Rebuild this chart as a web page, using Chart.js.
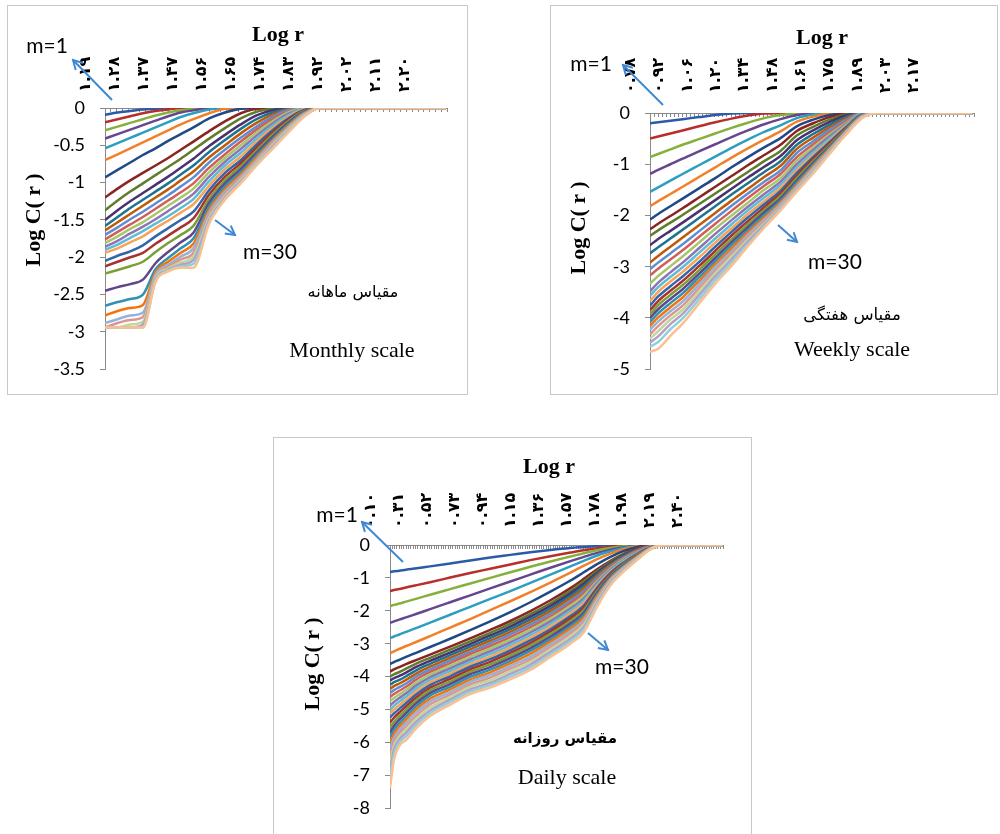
<!DOCTYPE html>
<html>
<head>
<meta charset="utf-8">
<script src="https://cdn.jsdelivr.net/npm/chart.js@4.4.1/dist/chart.umd.min.js"></script>
<style>
  body { margin: 0; background: #fff; }
  #page { position: relative; width: 1000px; height: 834px; overflow: hidden; background: #fff; }
  .panel { position: absolute; border: 1.5px solid #c8c8c8; box-sizing: border-box; }
  canvas { position: absolute; }
  .txt { position: absolute; white-space: nowrap; transform: translate(-50%, -50%); color: #000; line-height: 1; }
  .serifB { font-family: "Liberation Serif", serif; font-weight: bold; font-size: 22px; }
  .ytitle { transform: translate(-50%, -50%) rotate(-90deg); }
  .m { font-family: Lato, "Open Sans", sans-serif; font-size: 21px; }
  .fa { font-family: "DejaVu Sans", sans-serif; font-size: 16px; direction: rtl; }
  .en { font-family: "Liberation Serif", serif; font-size: 22px; }
  svg { position: absolute; left: 0; top: 0; }
</style>
</head>
<body>
<div id="page">
  <div class="panel" style="left:7px;top:5px;width:461px;height:390px;"></div>
  <div class="panel" style="left:550px;top:5px;width:448px;height:390px;"></div>
  <div class="panel" style="left:273px;top:437px;width:479px;height:420px;"></div>

  <canvas id="monthly" width="461" height="390" style="left:7px;top:5px;"></canvas>
  <canvas id="weekly" width="448" height="390" style="left:550px;top:5px;"></canvas>
  <canvas id="daily" width="479" height="397" style="left:273px;top:437px;"></canvas>

  <!-- monthly texts -->
  <div class="txt serifB" style="left:278px;top:34px;">Log r</div>
  <div class="txt serifB ytitle" style="left:33px;top:220px;">Log C( r )</div>
  <div class="txt m" style="left:47px;top:44px;">m=1</div>
  <div class="txt m" style="left:270px;top:250px;">m=30</div>
  <div class="txt fa" style="left:353px;top:292px;">مقیاس ماهانه</div>
  <div class="txt en" style="left:352px;top:350px;">Monthly scale</div>

  <!-- weekly texts -->
  <div class="txt serifB" style="left:822px;top:37px;">Log r</div>
  <div class="txt serifB ytitle" style="left:578px;top:228px;">Log C( r )</div>
  <div class="txt m" style="left:591px;top:62px;">m=1</div>
  <div class="txt m" style="left:835px;top:260px;">m=30</div>
  <div class="txt fa" style="left:852px;top:315px;font-size:16.5px;">مقیاس هفتگی</div>
  <div class="txt en" style="left:852px;top:349px;">Weekly scale</div>

  <!-- daily texts -->
  <div class="txt serifB" style="left:549px;top:466px;">Log r</div>
  <div class="txt serifB ytitle" style="left:312px;top:664px;">Log C( r )</div>
  <div class="txt m" style="left:337px;top:513px;">m=1</div>
  <div class="txt m" style="left:622px;top:665px;">m=30</div>
  <div class="txt fa" style="left:565px;top:738px;font-weight:bold;font-size:15px;">مقیاس روزانه</div>
  <div class="txt en" style="left:567px;top:777px;">Daily scale</div>

  <svg id="arrows" width="1000" height="834"></svg>
</div>

<script>
// ---- tick labels (Persian digits), one every few categories ----
const monthlyTicks = ['۱.۱۹','۱.۲۸','۱.۳۷','۱.۴۷','۱.۵۶','۱.۶۵','۱.۷۴','۱.۸۳','۱.۹۲','۲.۰۲','۲.۱۱','۲.۲۰'];
const weeklyTicks = ['۰.۷۸','۰.۹۲','۱.۰۶','۱.۲۰','۱.۳۴','۱.۴۸','۱.۶۱','۱.۷۵','۱.۸۹','۲.۰۳','۲.۱۷'];
const dailyTicks = ['۰.۱۰','۰.۳۱','۰.۵۲','۰.۷۳','۰.۹۴','۱.۱۵','۱.۳۶','۱.۵۷','۱.۷۸','۱.۹۸','۲.۱۹','۲.۴۰'];

// ---- Log r values where each curve was read ----
const monthlyLogR = [1.19,1.23,1.27,1.31,1.35,1.39,1.43,1.47,1.52,1.57,1.62,1.67,1.72,1.77,1.82,1.87,2.27];
const weeklyLogR = [0.78,0.82,0.88,0.94,1.02,1.10,1.18,1.26,1.34,1.42,1.50,1.58,1.66,1.74,1.82,1.90,2.36];
const dailyLogR = [0.10,0.13,0.17,0.22,0.30,0.40,0.55,0.70,0.85,1.00,1.15,1.30,1.45,1.55,1.65,1.75,1.85,1.95,2.05,2.15,2.59];

// ---- Log C(r), one row per embedding dimension m = 1..30 ----
const monthlyLogC = [
  [-0.09,-0.06,-0.04,-0.02,-0.01,0,0,0,0,0,0,0,0,0,0,0,0],
  [-0.19,-0.15,-0.11,-0.07,-0.04,-0.02,0,0,0,0,0,0,0,0,0,0,0],
  [-0.30,-0.25,-0.20,-0.15,-0.10,-0.06,-0.03,-0.01,0,0,0,0,0,0,0,0,0],
  [-0.41,-0.35,-0.29,-0.23,-0.17,-0.11,-0.06,-0.03,0,0,0,0,0,0,0,0,0],
  [-0.54,-0.47,-0.40,-0.33,-0.26,-0.19,-0.12,-0.07,-0.02,0,0,0,0,0,0,0,0],
  [-0.70,-0.62,-0.54,-0.46,-0.38,-0.30,-0.22,-0.15,-0.07,-0.01,0,0,0,0,0,0,0],
  [-0.93,-0.83,-0.73,-0.63,-0.54,-0.44,-0.35,-0.26,-0.14,-0.06,-0.01,0,0,0,0,0,0],
  [-1.20,-1.08,-0.97,-0.87,-0.77,-0.67,-0.56,-0.45,-0.31,-0.18,-0.07,-0.01,0,0,0,0,0],
  [-1.37,-1.24,-1.12,-1.01,-0.90,-0.79,-0.68,-0.56,-0.41,-0.27,-0.14,-0.05,-0.01,0,0,0,0],
  [-1.50,-1.37,-1.25,-1.14,-1.03,-0.92,-0.80,-0.68,-0.51,-0.36,-0.22,-0.10,-0.03,0,0,0,0],
  [-1.58,-1.46,-1.34,-1.23,-1.12,-1.01,-0.89,-0.77,-0.59,-0.43,-0.28,-0.15,-0.06,-0.01,0,0,0],
  [-1.64,-1.53,-1.42,-1.31,-1.20,-1.09,-0.97,-0.85,-0.66,-0.50,-0.34,-0.20,-0.09,-0.02,0,0,0],
  [-1.70,-1.60,-1.49,-1.39,-1.28,-1.17,-1.05,-0.93,-0.73,-0.56,-0.40,-0.25,-0.12,-0.03,0,0,0],
  [-1.76,-1.66,-1.56,-1.46,-1.35,-1.24,-1.13,-1.01,-0.80,-0.62,-0.45,-0.29,-0.15,-0.05,0,0,0],
  [-1.81,-1.72,-1.62,-1.53,-1.42,-1.31,-1.20,-1.08,-0.86,-0.67,-0.50,-0.33,-0.18,-0.06,0,0,0],
  [-1.86,-1.78,-1.68,-1.59,-1.49,-1.38,-1.27,-1.15,-0.92,-0.72,-0.55,-0.37,-0.21,-0.08,-0.01,0,0],
  [-1.90,-1.83,-1.74,-1.65,-1.55,-1.45,-1.34,-1.22,-0.98,-0.77,-0.60,-0.41,-0.24,-0.10,-0.01,0,0],
  [-1.94,-1.88,-1.80,-1.72,-1.61,-1.51,-1.40,-1.29,-1.04,-0.82,-0.65,-0.45,-0.27,-0.12,-0.02,0,0],
  [-2.05,-1.98,-1.92,-1.84,-1.72,-1.61,-1.50,-1.39,-1.10,-0.87,-0.70,-0.49,-0.30,-0.14,-0.03,0,0],
  [-2.12,-2.06,-2.00,-1.94,-1.82,-1.71,-1.60,-1.48,-1.16,-0.92,-0.74,-0.53,-0.33,-0.16,-0.03,0,0],
  [-2.22,-2.17,-2.12,-2.06,-1.93,-1.81,-1.70,-1.58,-1.22,-0.97,-0.78,-0.57,-0.36,-0.18,-0.04,0,0],
  [-2.45,-2.40,-2.36,-2.30,-2.08,-1.93,-1.80,-1.67,-1.27,-1.01,-0.82,-0.60,-0.39,-0.20,-0.05,0,0],
  [-2.65,-2.60,-2.56,-2.50,-2.16,-2.01,-1.88,-1.75,-1.32,-1.05,-0.86,-0.63,-0.42,-0.22,-0.06,0,0],
  [-2.78,-2.72,-2.68,-2.64,-2.20,-2.06,-1.94,-1.82,-1.36,-1.09,-0.89,-0.66,-0.44,-0.24,-0.07,0,0],
  [-2.88,-2.83,-2.78,-2.74,-2.23,-2.10,-1.99,-1.88,-1.40,-1.12,-0.92,-0.69,-0.46,-0.26,-0.08,0,0],
  [-2.94,-2.88,-2.84,-2.80,-2.26,-2.13,-2.03,-1.94,-1.44,-1.15,-0.94,-0.71,-0.48,-0.28,-0.09,0,0],
  [-2.94,-2.94,-2.90,-2.86,-2.28,-2.15,-2.07,-1.99,-1.47,-1.18,-0.96,-0.73,-0.50,-0.29,-0.10,0,0],
  [-2.94,-2.94,-2.94,-2.90,-2.30,-2.17,-2.10,-2.04,-1.50,-1.20,-0.98,-0.75,-0.52,-0.31,-0.11,0,0],
  [-2.94,-2.94,-2.94,-2.94,-2.32,-2.18,-2.12,-2.09,-1.53,-1.22,-1.00,-0.76,-0.54,-0.32,-0.11,0,0],
  [-2.94,-2.94,-2.94,-2.94,-2.33,-2.19,-2.14,-2.14,-1.55,-1.23,-1.01,-0.77,-0.55,-0.33,-0.12,0,0]
];

const weeklyLogC = [
  [-0.20,-0.18,-0.15,-0.12,-0.08,-0.04,-0.01,0,0,0,0,0,0,0,0,0,0],
  [-0.50,-0.46,-0.40,-0.34,-0.26,-0.18,-0.11,-0.05,-0.01,0,0,0,0,0,0,0,0],
  [-0.86,-0.80,-0.71,-0.62,-0.51,-0.40,-0.29,-0.19,-0.10,-0.04,-0.01,0,0,0,0,0,0],
  [-1.19,-1.11,-1.00,-0.89,-0.75,-0.61,-0.47,-0.34,-0.22,-0.12,-0.04,0,0,0,0,0,0],
  [-1.54,-1.45,-1.32,-1.19,-1.02,-0.85,-0.68,-0.52,-0.37,-0.24,-0.10,-0.03,0,0,0,0,0],
  [-1.82,-1.72,-1.58,-1.44,-1.25,-1.06,-0.87,-0.69,-0.52,-0.36,-0.17,-0.07,-0.01,0,0,0,0],
  [-2.08,-1.97,-1.82,-1.67,-1.47,-1.27,-1.06,-0.86,-0.67,-0.49,-0.26,-0.13,-0.04,0,0,0,0],
  [-2.27,-2.16,-2.01,-1.86,-1.65,-1.44,-1.23,-1.02,-0.82,-0.62,-0.35,-0.20,-0.08,-0.01,0,0,0],
  [-2.40,-2.29,-2.14,-1.99,-1.78,-1.57,-1.36,-1.15,-0.94,-0.74,-0.44,-0.27,-0.13,-0.03,0,0,0],
  [-2.58,-2.46,-2.30,-2.14,-1.92,-1.70,-1.48,-1.26,-1.05,-0.84,-0.53,-0.34,-0.18,-0.05,0,0,0],
  [-2.74,-2.62,-2.45,-2.28,-2.05,-1.82,-1.59,-1.37,-1.15,-0.94,-0.62,-0.41,-0.23,-0.08,0,0,0],
  [-2.92,-2.79,-2.61,-2.43,-2.19,-1.95,-1.71,-1.48,-1.25,-1.03,-0.70,-0.48,-0.28,-0.11,0,0,0],
  [-3.05,-2.92,-2.74,-2.56,-2.31,-2.06,-1.81,-1.57,-1.34,-1.12,-0.78,-0.55,-0.33,-0.14,0,0,0],
  [-3.17,-3.04,-2.86,-2.68,-2.42,-2.16,-1.91,-1.66,-1.42,-1.19,-0.86,-0.61,-0.38,-0.17,-0.01,0,0],
  [-3.33,-3.18,-2.99,-2.80,-2.53,-2.26,-2.00,-1.75,-1.50,-1.27,-0.93,-0.67,-0.42,-0.20,-0.01,0,0],
  [-3.48,-3.31,-3.11,-2.92,-2.64,-2.36,-2.09,-1.83,-1.58,-1.34,-1.00,-0.72,-0.46,-0.22,-0.02,0,0],
  [-3.57,-3.40,-3.20,-3.01,-2.73,-2.45,-2.17,-1.90,-1.65,-1.40,-1.06,-0.77,-0.50,-0.24,-0.02,0,0],
  [-3.67,-3.49,-3.29,-3.10,-2.82,-2.53,-2.25,-1.97,-1.72,-1.46,-1.12,-0.82,-0.54,-0.26,-0.03,0,0],
  [-3.76,-3.58,-3.38,-3.19,-2.91,-2.61,-2.32,-2.04,-1.78,-1.52,-1.17,-0.86,-0.57,-0.28,-0.03,0,0],
  [-3.85,-3.67,-3.47,-3.28,-2.99,-2.69,-2.39,-2.11,-1.84,-1.57,-1.22,-0.90,-0.60,-0.30,-0.04,0,0],
  [-3.93,-3.75,-3.55,-3.36,-3.07,-2.76,-2.46,-2.17,-1.89,-1.62,-1.27,-0.94,-0.63,-0.32,-0.04,0,0],
  [-4.00,-3.83,-3.63,-3.44,-3.14,-2.83,-2.52,-2.23,-1.94,-1.67,-1.32,-0.98,-0.66,-0.34,-0.05,0,0],
  [-4.07,-3.91,-3.71,-3.52,-3.21,-2.89,-2.58,-2.28,-1.99,-1.71,-1.36,-1.01,-0.68,-0.35,-0.05,0,0],
  [-4.15,-3.99,-3.79,-3.60,-3.28,-2.95,-2.64,-2.33,-2.04,-1.75,-1.40,-1.04,-0.70,-0.36,-0.06,0,0],
  [-4.23,-4.07,-3.87,-3.68,-3.35,-3.01,-2.70,-2.38,-2.08,-1.78,-1.43,-1.07,-0.72,-0.37,-0.06,0,0],
  [-4.32,-4.16,-3.95,-3.76,-3.42,-3.07,-2.75,-2.43,-2.12,-1.81,-1.46,-1.10,-0.74,-0.38,-0.07,0,0],
  [-4.40,-4.26,-4.03,-3.84,-3.49,-3.13,-2.80,-2.47,-2.16,-1.84,-1.48,-1.12,-0.76,-0.39,-0.08,0,0],
  [-4.48,-4.36,-4.12,-3.92,-3.56,-3.19,-2.86,-2.51,-2.19,-1.86,-1.50,-1.14,-0.77,-0.40,-0.08,0,0],
  [-4.56,-4.47,-4.22,-4.01,-3.64,-3.26,-2.92,-2.56,-2.22,-1.88,-1.52,-1.16,-0.79,-0.42,-0.09,0,0],
  [-4.66,-4.60,-4.35,-4.11,-3.72,-3.33,-2.98,-2.60,-2.24,-1.90,-1.53,-1.18,-0.80,-0.43,-0.10,0,0]
];

const dailyLogC = [
  [-0.82,-0.80,-0.78,-0.75,-0.71,-0.65,-0.56,-0.47,-0.38,-0.30,-0.22,-0.15,-0.09,-0.06,-0.03,-0.01,0,0,0,0,0],
  [-1.40,-1.37,-1.34,-1.29,-1.22,-1.13,-0.99,-0.85,-0.72,-0.59,-0.46,-0.34,-0.23,-0.16,-0.10,-0.05,-0.02,0,0,0,0],
  [-1.86,-1.82,-1.78,-1.72,-1.63,-1.51,-1.34,-1.17,-1.00,-0.83,-0.66,-0.50,-0.35,-0.25,-0.16,-0.09,-0.04,-0.01,0,0,0],
  [-2.37,-2.32,-2.27,-2.20,-2.09,-1.95,-1.74,-1.53,-1.32,-1.11,-0.90,-0.69,-0.49,-0.36,-0.24,-0.14,-0.07,-0.02,0,0,0],
  [-2.83,-2.78,-2.72,-2.64,-2.52,-2.36,-2.12,-1.88,-1.64,-1.40,-1.15,-0.90,-0.65,-0.48,-0.32,-0.19,-0.09,-0.03,0,0,0],
  [-3.29,-3.23,-3.16,-3.07,-2.94,-2.77,-2.51,-2.25,-1.98,-1.71,-1.43,-1.14,-0.84,-0.63,-0.43,-0.26,-0.13,-0.04,0,0,0],
  [-3.62,-3.56,-3.49,-3.40,-3.27,-3.10,-2.85,-2.59,-2.32,-2.04,-1.74,-1.42,-1.08,-0.83,-0.58,-0.36,-0.18,-0.06,0,0,0],
  [-3.85,-3.78,-3.71,-3.62,-3.49,-3.33,-3.09,-2.84,-2.58,-2.31,-2.01,-1.68,-1.31,-1.03,-0.74,-0.48,-0.26,-0.09,-0.01,0,0],
  [-4.00,-3.93,-3.86,-3.76,-3.60,-3.43,-3.18,-2.93,-2.67,-2.40,-2.10,-1.77,-1.39,-1.10,-0.79,-0.51,-0.28,-0.11,-0.02,0,0],
  [-4.12,-4.05,-3.98,-3.88,-3.70,-3.52,-3.27,-3.01,-2.75,-2.48,-2.18,-1.85,-1.47,-1.18,-0.84,-0.55,-0.31,-0.12,-0.02,0,0],
  [-4.25,-4.17,-4.10,-3.99,-3.80,-3.61,-3.35,-3.09,-2.83,-2.56,-2.26,-1.93,-1.54,-1.25,-0.89,-0.58,-0.33,-0.14,-0.03,0,0],
  [-4.38,-4.29,-4.21,-4.10,-3.90,-3.70,-3.43,-3.17,-2.91,-2.64,-2.34,-2.01,-1.62,-1.32,-0.94,-0.61,-0.36,-0.16,-0.03,0,0],
  [-4.50,-4.41,-4.32,-4.21,-3.99,-3.78,-3.51,-3.25,-2.99,-2.72,-2.42,-2.09,-1.70,-1.40,-0.99,-0.65,-0.38,-0.17,-0.04,0,0],
  [-4.62,-4.53,-4.43,-4.31,-4.08,-3.86,-3.59,-3.32,-3.07,-2.80,-2.50,-2.17,-1.77,-1.47,-1.05,-0.68,-0.41,-0.19,-0.04,0,0],
  [-4.75,-4.65,-4.54,-4.41,-4.17,-3.94,-3.67,-3.40,-3.15,-2.88,-2.58,-2.24,-1.85,-1.54,-1.10,-0.72,-0.43,-0.21,-0.05,0,0],
  [-4.88,-4.77,-4.65,-4.51,-4.26,-4.02,-3.75,-3.48,-3.23,-2.96,-2.66,-2.32,-1.93,-1.62,-1.15,-0.75,-0.46,-0.22,-0.05,0,0],
  [-5.00,-4.89,-4.76,-4.61,-4.35,-4.10,-3.83,-3.55,-3.31,-3.04,-2.74,-2.40,-2.00,-1.69,-1.20,-0.78,-0.48,-0.24,-0.06,0,0],
  [-5.12,-5.00,-4.87,-4.71,-4.44,-4.18,-3.91,-3.63,-3.39,-3.12,-2.82,-2.48,-2.08,-1.76,-1.25,-0.82,-0.51,-0.25,-0.06,0,0],
  [-5.25,-5.12,-4.98,-4.81,-4.53,-4.26,-3.99,-3.70,-3.47,-3.20,-2.90,-2.56,-2.16,-1.84,-1.30,-0.85,-0.53,-0.27,-0.07,0,0],
  [-5.40,-5.25,-5.09,-4.91,-4.62,-4.34,-4.07,-3.78,-3.55,-3.28,-2.98,-2.63,-2.23,-1.91,-1.35,-0.88,-0.56,-0.29,-0.07,0,0],
  [-5.55,-5.38,-5.20,-5.01,-4.71,-4.42,-4.15,-3.86,-3.63,-3.36,-3.06,-2.71,-2.31,-1.98,-1.40,-0.92,-0.58,-0.30,-0.08,0,0],
  [-5.70,-5.50,-5.31,-5.11,-4.80,-4.50,-4.23,-3.93,-3.71,-3.44,-3.14,-2.79,-2.39,-2.06,-1.45,-0.95,-0.61,-0.32,-0.08,0,0],
  [-5.85,-5.62,-5.42,-5.21,-4.89,-4.58,-4.31,-4.01,-3.79,-3.52,-3.22,-2.87,-2.46,-2.13,-1.51,-0.99,-0.63,-0.34,-0.09,0,0],
  [-6.00,-5.74,-5.52,-5.31,-4.98,-4.67,-4.39,-4.09,-3.87,-3.60,-3.31,-2.94,-2.54,-2.20,-1.56,-1.02,-0.66,-0.35,-0.09,0,0],
  [-6.20,-5.86,-5.62,-5.41,-5.07,-4.76,-4.47,-4.16,-3.95,-3.68,-3.40,-3.02,-2.62,-2.28,-1.61,-1.05,-0.68,-0.37,-0.10,0,0],
  [-6.40,-5.98,-5.72,-5.51,-5.17,-4.85,-4.55,-4.24,-4.03,-3.76,-3.48,-3.10,-2.69,-2.35,-1.66,-1.09,-0.71,-0.39,-0.10,0,0],
  [-6.60,-6.10,-5.82,-5.61,-5.26,-4.94,-4.63,-4.31,-4.11,-3.84,-3.56,-3.18,-2.77,-2.42,-1.71,-1.12,-0.73,-0.40,-0.11,0,0],
  [-6.85,-6.22,-5.91,-5.71,-5.36,-5.03,-4.70,-4.39,-4.19,-3.92,-3.64,-3.25,-2.85,-2.50,-1.76,-1.15,-0.75,-0.42,-0.12,0,0],
  [-7.10,-6.36,-6.00,-5.82,-5.45,-5.11,-4.77,-4.46,-4.26,-4.00,-3.72,-3.33,-2.92,-2.57,-1.82,-1.19,-0.78,-0.43,-0.12,0,0],
  [-7.39,-6.52,-6.10,-5.93,-5.55,-5.20,-4.85,-4.53,-4.33,-4.08,-3.80,-3.40,-3.00,-2.65,-1.87,-1.22,-0.80,-0.45,-0.13,0,0]
];

// Excel style series colours, m = 1..30
const seriesColors = [
  '#2b5ba8','#b82e2a','#86b03c','#65468f','#2e9ec0','#f2802a',
  '#1f4a86','#8a2522','#5f7d2c','#4a3270','#1d7390','#c05a08',
  '#5d8fd0','#d05e5b','#a6c86a','#8e74b5','#5dbcd6','#f9a35a',
  '#3166aa','#a6332e','#789f38','#60468a','#2f92b2','#f3740b',
  '#95b3d7','#d99694','#c3d69b','#b2a1c7','#93cddd','#fac090'
];

const axisGray = '#8a8a8a';

function makeChart(id, logR, rows, tickLabels, ax) {
  const datasets = rows.map((vals, i) => ({
    data: vals.map((v, j) => ({x: logR[j], y: v})),
    borderColor: seriesColors[i],
    borderWidth: 2.5,
    pointRadius: 0,
    fill: false,
    cubicInterpolationMode: 'monotone',
    order: rows.length - i   // later m drawn on top, as in Excel
  }));

  return new Chart(document.getElementById(id), {
    type: 'line',
    data: { datasets: datasets },
    options: {
      responsive: false,
      animation: false,
      devicePixelRatio: 1,
      events: [],
      layout: { padding: ax.pad },
      plugins: { legend: { display: false }, tooltip: { enabled: false } },
      scales: {
        x: {
          type: 'linear',
          position: 'top',
          min: ax.min,
          max: ax.min + (ax.count - 1) * ax.step,
          // one tick mark per category, like the Excel category axis
          afterBuildTicks: s => {
            s.ticks = Array.from({length: ax.count}, (_, i) => ({value: ax.min + i * ax.step}));
          },
          afterFit: s => { s.height = ax.top; },
          grid: { drawOnChartArea: false, tickLength: -4, color: axisGray },
          border: { color: axisGray },
          ticks: {
            autoSkip: false,
            minRotation: 90,
            maxRotation: 90,
            padding: ax.labelPad,
            color: '#000',
            font: { family: 'DejaVu Sans', size: 16, weight: 'bold' },
            callback: (v, i) => (i % ax.every === 0 ? tickLabels[i / ax.every] : '')
          }
        },
        y: {
          type: 'linear',
          min: ax.yMin,
          max: 0,
          afterFit: s => { s.width = ax.left; },
          grid: { drawOnChartArea: false, tickLength: 5, color: axisGray },
          border: { color: axisGray },
          ticks: {
            stepSize: ax.yStep,
            padding: 15,
            color: '#000',
            font: { family: 'Lato', size: 18 },
            callback: v => String(v)
          }
        }
      }
    }
  });
}

makeChart('monthly', monthlyLogR, monthlyLogC, monthlyTicks, {
  min: 1.19, step: 0.01836, count: 60, every: 5,
  yMin: -3.5, yStep: 0.5,
  left: 98, top: 103, labelPad: 20,
  pad: { left: 0, top: 0, right: 21, bottom: 13 }
});

makeChart('weekly', weeklyLogR, weeklyLogC, weeklyTicks, {
  min: 0.78, step: 0.01986, count: 81, every: 7,
  yMin: -5, yStep: 1,
  left: 100, top: 108, labelPad: 24,
  pad: { left: 0, top: 0, right: 5, bottom: 14 }
});

makeChart('daily', dailyLogR, dailyLogC, dailyTicks, {
  min: 0.10, step: 0.017424, count: 144, every: 12,
  yMin: -8, yStep: 1,
  left: 117, top: 108, labelPad: 21,
  pad: { left: 0, top: 0, right: 29, bottom: 13 }
});

// blue pointer arrows next to the m=1 / m=30 notes
const arrows = [
  [112, 100, 73, 60], [215, 220, 235, 235],
  [663, 105, 623, 65], [778, 225, 797, 242],
  [403, 562, 362, 522], [588, 633, 608, 650]
];
const svg = document.getElementById('arrows');
let svgHtml = '<defs><marker id="ah" viewBox="0 0 12 12" refX="10" refY="6" markerWidth="12" markerHeight="12" markerUnits="userSpaceOnUse" orient="auto">' +
  '<path d="M1,1 L10,6 L1,11" fill="none" stroke="#3f88d4" stroke-width="2"/></marker></defs>';
arrows.forEach(a => {
  svgHtml += `<line x1="${a[0]}" y1="${a[1]}" x2="${a[2]}" y2="${a[3]}" stroke="#3f88d4" stroke-width="2" marker-end="url(#ah)"/>`;
});
svg.innerHTML = svgHtml;
</script>
</body>
</html>
